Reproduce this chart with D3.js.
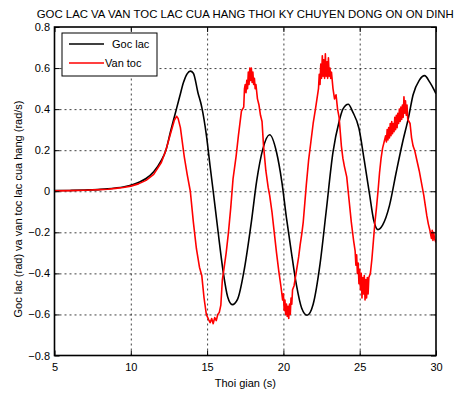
<!DOCTYPE html>
<meta charset="utf-8">
<style>
body { margin: 0; background: #fff; }
text { font-family: "Liberation Sans", Arial, sans-serif; font-size: 11px; fill: #000; }
.title { font-size: 11.4px; }
.grid line { stroke: #000; stroke-opacity: 0.75; stroke-dasharray: 2,3; stroke-width: 1; }
.grid path { display: none; }
.axis path, .axis line { stroke: #000; }
.frame { fill: none; stroke: #000; stroke-width: 1.6px; }
.legend rect { fill: #fff; stroke: #000; stroke-width: 1px; }
</style>
<svg width="459" height="394"></svg>
<script src="https://cdnjs.cloudflare.com/ajax/libs/d3/7.8.5/d3.min.js"></script>
<script>

// Goc lac (black)
var gocTime = [5, 6, 7, 8, 8.5, 9, 9.5, 10, 10.5, 11, 11.5, 12, 12.3, 12.6, 12.9, 13.2, 13.45, 13.7, 13.9,
  14.1, 14.4, 14.65, 14.95, 15.2, 15.4, 15.7, 16.05, 16.35, 16.65, 17.0, 17.45, 17.9, 18.25, 18.65, 19.1,
  19.55, 19.9, 20.2, 20.5, 20.85, 21.2, 21.55, 21.95, 22.4, 22.8, 23.25, 23.65, 23.9, 24.25, 24.55, 24.95,
  25.3, 25.65, 25.9, 26.2, 26.5, 26.95, 27.4, 27.8, 28.2, 28.5, 28.9, 29.25, 29.6, 29.9, 30];
var gocLac = [0.003, 0.004, 0.006, 0.009, 0.012, 0.016, 0.021, 0.029, 0.043, 0.062, 0.095, 0.15, 0.2, 0.29, 0.375, 0.46, 0.53, 0.573, 0.585,
  0.575, 0.48, 0.41, 0.275, 0.12, 0.0, -0.185, -0.39, -0.515, -0.552, -0.525, -0.375, -0.15, 0.05, 0.205, 0.275,
  0.19, 0.045, -0.13, -0.285, -0.455, -0.57, -0.604, -0.55, -0.355, -0.1, 0.19, 0.34, 0.4, 0.424, 0.385, 0.307,
  0.15, -0.017, -0.135, -0.187, -0.165, -0.07, 0.095, 0.235, 0.36, 0.47, 0.54, 0.563, 0.53, 0.49, 0.475];

// Van toc (red)
var vanTime = [5, 6, 7, 8, 8.5, 9, 9.5, 10, 10.5, 11, 11.5, 12, 12.3, 12.6, 12.85, 13.0, 13.1, 13.25, 13.5, 13.7, 13.9,
  14.1, 14.3, 14.5, 14.65, 14.8, 14.95, 15.1, 15.2, 15.3, 15.4, 15.5, 15.6, 15.7, 15.8, 15.9, 16.0, 16.1, 16.25, 16.4,
  16.55, 16.7, 16.9, 17.05, 17.25, 17.4, 17.45, 17.5, 17.55, 17.6, 17.65, 17.7, 17.75, 17.8, 17.85, 17.9, 17.95,
  18.0, 18.05, 18.1, 18.15, 18.2, 18.3, 18.4, 18.5, 18.6, 18.7, 18.85, 19.0, 19.1, 19.25, 19.4, 19.55, 19.7, 19.85,
  19.95, 20.0, 20.05, 20.1, 20.15, 20.2, 20.25, 20.3, 20.35, 20.4, 20.45, 20.5, 20.55, 20.6, 20.7, 20.85, 21.0, 21.1,
  21.2, 21.3, 21.4, 21.5, 21.65, 21.8, 21.95, 22.1, 22.2, 22.3, 22.35, 22.4, 22.45, 22.5, 22.55, 22.6, 22.65, 22.7,
  22.75, 22.8, 22.85, 22.9, 22.95, 23.0, 23.05, 23.1, 23.15, 23.25, 23.35, 23.45, 23.55, 23.65, 23.8, 23.9, 24.0,
  24.15, 24.3, 24.45, 24.6, 24.7, 24.75, 24.8, 24.85, 24.9, 24.95, 25.0, 25.05, 25.1, 25.15, 25.2, 25.25, 25.3,
  25.35, 25.4, 25.45, 25.5, 25.55, 25.6, 25.7, 25.8, 25.9, 26.0, 26.1, 26.2, 26.3, 26.4, 26.5, 26.6, 26.7, 26.75,
  26.8, 26.85, 26.9, 26.95, 27.0, 27.05, 27.1, 27.15, 27.2, 27.25, 27.3, 27.35, 27.4, 27.45, 27.5, 27.55, 27.6,
  27.65, 27.7, 27.75, 27.8, 27.85, 27.9, 27.95, 28.0, 28.05, 28.1, 28.15, 28.3, 28.4, 28.5, 28.6, 28.75, 28.9, 29.0,
  29.1, 29.2, 29.3, 29.4, 29.5, 29.6, 29.7, 29.75, 29.8, 29.85, 29.9, 30.0];
var vanToc = [0.002, 0.003, 0.005, 0.008, 0.01, 0.014, 0.018, 0.025, 0.036, 0.053, 0.082, 0.14, 0.2, 0.28, 0.345, 0.365, 0.355, 0.31, 0.17, 0.08, 0.0,
  -0.15, -0.28, -0.37, -0.41, -0.52, -0.6, -0.625, -0.64, -0.62, -0.645, -0.615, -0.63, -0.6, -0.59, -0.555, -0.43, -0.38, -0.3, -0.2,
  -0.08, 0.06, 0.17, 0.27, 0.39, 0.41, 0.5, 0.52, 0.48, 0.54, 0.5, 0.58, 0.52, 0.6, 0.54, 0.6, 0.53,
  0.58, 0.52, 0.55, 0.5, 0.52, 0.45, 0.42, 0.37, 0.34, 0.22, 0.1, 0.02, -0.02, -0.1, -0.2, -0.3, -0.39, -0.47,
  -0.53, -0.5, -0.58, -0.53, -0.6, -0.55, -0.61, -0.56, -0.62, -0.55, -0.6, -0.52, -0.55, -0.48, -0.46, -0.39, -0.32, -0.26,
  -0.21, -0.15, -0.06, 0.03, 0.15, 0.24, 0.33, 0.4, 0.45, 0.5, 0.57, 0.52, 0.62, 0.55, 0.66, 0.56, 0.64, 0.55,
  0.67, 0.56, 0.63, 0.55, 0.65, 0.56, 0.6, 0.55, 0.58, 0.5, 0.45, 0.47, 0.4, 0.36, 0.22, 0.16, 0.12,
  0.07, -0.04, -0.15, -0.24, -0.29, -0.36, -0.31, -0.4, -0.35, -0.45, -0.38, -0.48, -0.4, -0.52, -0.42, -0.5, -0.41,
  -0.53, -0.43, -0.52, -0.42, -0.5, -0.42, -0.4, -0.33, -0.24, -0.15, -0.08, 0.0, 0.09, 0.16, 0.21, 0.24, 0.27, 0.24,
  0.3, 0.25, 0.31, 0.26, 0.33, 0.27, 0.34, 0.28, 0.33, 0.29, 0.36, 0.3, 0.37, 0.31, 0.38, 0.33, 0.4,
  0.34, 0.41, 0.35, 0.42, 0.36, 0.46, 0.38, 0.44, 0.37, 0.42, 0.35, 0.33, 0.26, 0.22, 0.2, 0.15, 0.1, 0.06,
  0.02, -0.02, -0.07, -0.12, -0.16, -0.19, -0.23, -0.19, -0.24, -0.2, -0.23, -0.25];

var xTicks = [5, 10, 15, 20, 25, 30];
var yTicks = [-0.8, -0.6, -0.4, -0.2, 0, 0.2, 0.4, 0.6, 0.8];
var legendNames = ["Goc lac", "Van toc"];
var colors = ["#000000", "#ff0000"];

var svg = d3.select("svg"),
    margin = {top: 27, right: 23, bottom: 38.5, left: 54.5},
    width = +svg.attr("width") - margin.left - margin.right,
    height = +svg.attr("height") - margin.top - margin.bottom;

var x = d3.scaleLinear().domain([5, 30]).range([0, width]);
var y = d3.scaleLinear().domain([-0.8, 0.8]).range([height, 0]);

var g = svg.append("g").attr("transform", "translate(" + margin.left + "," + margin.top + ")");

g.append("clipPath").attr("id", "clip")
  .append("rect").attr("width", width).attr("height", height);

// dotted grid (inner ticks only)
g.append("g").attr("class", "grid")
    .attr("transform", "translate(0," + height + ")")
    .call(d3.axisBottom(x).tickValues(xTicks.slice(1, -1)).tickSize(-height).tickFormat(""));
g.append("g").attr("class", "grid")
    .call(d3.axisLeft(y).tickValues(yTicks.slice(1, -1)).tickSize(-width).tickFormat(""));

// lines: black is smooth, red is noisy so straight segments
var smoothLine = d3.line()
    .curve(d3.curveMonotoneX)
    .x(function(d) { return x(d[0]); })
    .y(function(d) { return y(d[1]); });
var rawLine = d3.line()
    .x(function(d) { return x(d[0]); })
    .y(function(d) { return y(d[1]); });

var series = [
  d3.zip(gocTime, gocLac),
  d3.zip(vanTime, vanToc)
];

g.append("g").attr("clip-path", "url(#clip)")
  .selectAll("path")
  .data(series)
  .enter().append("path")
    .attr("fill", "none")
    .attr("stroke", function(d, i) { return colors[i]; })
    .attr("stroke-width", 1.6)
    .attr("stroke-linejoin", "round")
    .attr("d", function(d, i) { return i === 0 ? smoothLine(d) : rawLine(d); });

// axes with inward ticks
var fmt = function(d) { return d === 0 ? "0" : d3.format(".1f")(d); };

g.append("g").attr("class", "axis")
    .attr("transform", "translate(0," + height + ")")
    .call(d3.axisBottom(x).tickValues(xTicks).tickSize(-5).tickPadding(8).tickFormat(d3.format("d")))
    .call(function(a) { a.select(".domain").remove(); a.selectAll("text").style("font-size", "11px"); });
g.append("g").attr("class", "axis")
    .call(d3.axisTop(x).tickValues(xTicks).tickSize(-5).tickFormat(""))
    .call(function(a) { a.select(".domain").remove(); });
g.append("g").attr("class", "axis")
    .call(d3.axisLeft(y).tickValues(yTicks).tickSize(-5).tickPadding(4.5).tickFormat(fmt))
    .call(function(a) { a.select(".domain").remove(); a.selectAll("text").style("font-size", "11px"); });
g.append("g").attr("class", "axis")
    .attr("transform", "translate(" + width + ",0)")
    .call(d3.axisRight(y).tickValues(yTicks).tickSize(-5).tickFormat(""))
    .call(function(a) { a.select(".domain").remove(); });

g.append("rect").attr("class", "frame").attr("width", width).attr("height", height);

// labels
svg.append("text")
    .attr("class", "title")
    .attr("x", margin.left + width / 2).attr("y", 18)
    .attr("text-anchor", "middle")
    .text("GOC LAC VA VAN TOC LAC CUA HANG THOI KY CHUYEN DONG ON ON DINH");

svg.append("text")
    .attr("x", margin.left + width / 2).attr("y", 387)
    .attr("text-anchor", "middle")
    .text("Thoi gian (s)");

svg.append("text")
    .attr("transform", "translate(22,209) rotate(-90)")
    .attr("text-anchor", "middle")
    .text("Goc lac (rad) va van toc lac cua hang (rad/s)");

// legend
var legend = svg.append("g").attr("class", "legend");
legend.append("rect").attr("x", 62).attr("y", 33).attr("width", 95).attr("height", 43);
var textX = [112, 105];
legendNames.forEach(function(name, i) {
  var ly = 44 + i * 19;
  legend.append("line")
      .attr("x1", 69).attr("x2", 104).attr("y1", ly).attr("y2", ly)
      .attr("stroke", colors[i]).attr("stroke-width", 1.6);
  legend.append("text")
      .attr("x", textX[i]).attr("y", ly + 4)
      .text(name);
});

</script>
